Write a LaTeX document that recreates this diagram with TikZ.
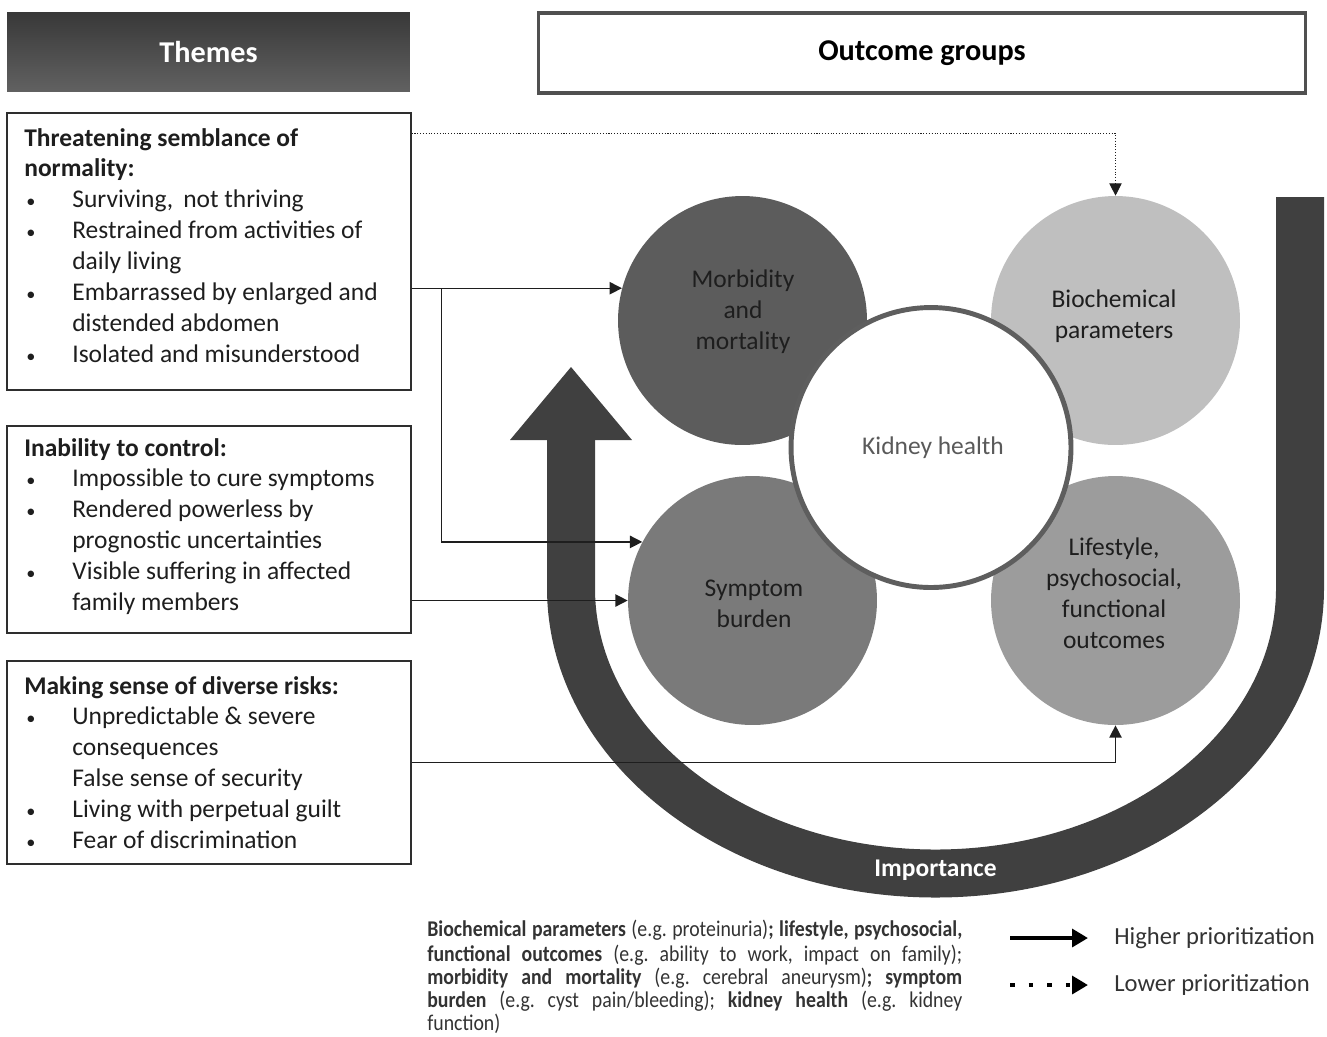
\documentclass[tikz,border=0pt]{standalone}
\usepackage{fontspec}
\setmainfont{Carlito}
\usetikzlibrary{arrows.meta,calc}
\definecolor{ink}{HTML}{1E1E1E}
\definecolor{boxline}{HTML}{2E2E2E}
\definecolor{outl}{HTML}{505050}
\definecolor{ucol}{HTML}{404040}
\definecolor{cmor}{HTML}{5C5C5C}
\definecolor{cbio}{HTML}{BFBFBF}
\definecolor{csym}{HTML}{7A7A7A}
\definecolor{clif}{HTML}{9C9C9C}
\definecolor{kring}{HTML}{5E5E5E}
\definecolor{ktext}{HTML}{5A5A5A}
\definecolor{legtext}{HTML}{333333}
\newcommand\tbul{\makebox[0.96cm][l]{\hspace{0.04cm}\scalebox{0.72}{\textbullet}}}
\newcommand\tind{\makebox[0.96cm]{}}
\begin{document}
\begin{tikzpicture}[x=0.02cm,y=-0.02cm,
  themebox/.style={draw=boxline,line width=0.8pt,fill=white,minimum width=8.08cm,inner sep=0pt},
  bodytext/.style={font=\fontsize{14.5}{17.6}\selectfont,text=ink,align=left,inner sep=0pt,anchor=north west},
  circ/.style={circle,minimum size=4.98cm,inner sep=0pt},
  ctext/.style={font=\fontsize{14.5}{17.6}\selectfont,text=ink,align=center,inner sep=0pt},
  conn/.style={draw=ink,line width=0.8pt,-{Triangle[length=7pt,width=7pt]}},
  dconn/.style={draw=ink,line width=0.6pt,densely dotted,-{Triangle[length=7pt,width=7pt]}},
  uarrow/.style={draw=ucol,line width=0.96cm},
  headtext/.style={font=\fontsize{17.2}{20}\selectfont\bfseries}
]
\useasboundingbox (0,0) rectangle (1327,1036);

% header boxes
\node[headtext,text=white,top color=black!78,bottom color=black!62,minimum width=8.06cm,minimum height=1.58cm,inner sep=0pt] (themes) at (208.5,51.5) {Themes};
\node[headtext,text=black,draw=outl,line width=2pt,fill=white,minimum width=15.34cm,minimum height=1.6cm,inner sep=0pt] (og) at (922,53) {Outcome groups};

% theme boxes
\node[themebox,minimum height=5.54cm] (t1) at (209,251.5) {};
\node[themebox,minimum height=4.14cm] (t2) at (209,529.5) {};
\node[themebox,minimum height=4.06cm] (t3) at (209,762.5) {};

\node[bodytext] (t1txt) at (24,124) {\strut\textbf{Threatening semblance of}\\
\textbf{normality:}\\
\tbul Surviving,\, not thriving\\
\tbul Restrained from activities of\\
\tind daily living\\
\tbul Embarrassed by enlarged and\\
\tind distended abdomen\\
\tbul Isolated and misunderstood};

\node[bodytext] (t2txt) at (24,434) {\strut\textbf{Inability to control:}\\
\tbul Impossible to cure symptoms\\
\tbul Rendered powerless by\\
\tind prognostic uncertainties\\
\tbul Visible suffering in affected\\
\tind family members};

\node[bodytext] (t3txt) at (24,672) {\strut\textbf{Making sense of diverse risks:}\\
\tbul Unpredictable \& severe\\
\tind consequences\\
\tind False sense of security\\
\tbul Living with perpetual guilt\\
\tbul Fear of discrimination};

% U shaped importance arrow
\draw[uarrow] (1300,197) -- (1300,588) arc[start angle=0,end angle=180,x radius=364.5,y radius=285.5] -- (571,439);
\fill[ucol] (510,440) -- (632,440) -- (571,367) -- cycle;
\node[headtext,font=\fontsize{14.5}{17}\selectfont\bfseries,text=white] (imp) at (935.5,870) {Importance};

% outcome circles
\node[circ,fill=cmor] (mor) at (742.5,320.5) {};
\node[circ,fill=cbio] (bio) at (1115.5,320.5) {};
\node[circ,fill=csym] (sym) at (752.5,600.5) {};
\node[circ,fill=clif] (lif) at (1115.5,600.5) {};
\node[circle,fill=white,draw=kring,line width=2.8pt,minimum size=5.6cm,inner sep=0pt] (kid) at (931,447.5) {};

\node[ctext] (mortxt) at (743,312) {Morbidity\\and\\mortality};
\node[ctext] (biotxt) at (1114,316.5) {Biochemical\\parameters};
\node[ctext,text=ktext] (kidtxt) at (933,448) {Kidney health};
\node[ctext] (symtxt) at (754,604) {Symptom\\burden};
\node[ctext] (liftxt) at (1114,593) {Lifestyle,\\psychosocial,\\functional\\outcomes};

% connectors
\coordinate (j1) at ([xshift=0.6cm]t1.east |- mor.165.8);
\draw[conn] (t1.east |- mor.165.8) -- (mor.165.8);
\draw[conn] (j1) |- (sym.152.5);
\draw[conn] (t2.east |- sym.west) -- (sym.west);
\draw[conn] (t3.east) -| (lif.south);
\draw[dconn] ([yshift=-0.42cm]t1.north east) -| (bio.north);

% legend
\node[anchor=north west,inner sep=0pt,text=legtext] (leg) at (427,920) {\scalebox{0.88}[1]{\parbox{12.16cm}{\fontsize{12.8}{13.0}\selectfont\frenchspacing\strut\textbf{Biochemical parameters} (e.g. proteinuria)\textbf{; lifestyle, psychosocial,}\linebreak
\textbf{functional outcomes} (e.g. ability to work, impact on family);\linebreak
\textbf{morbidity and mortality} (e.g. cerebral aneurysm)\textbf{; symptom}\linebreak
\textbf{burden} (e.g. cyst pain/bleeding); \textbf{kidney health} (e.g. kidney\linebreak
function)}}};

\coordinate (hs) at (1010,938);
\coordinate (he) at (1088,938);
\coordinate (ls) at (1010,985);
\coordinate (le) at (1088,985);
\draw[draw=black,line width=2.3pt,-{Triangle[length=9pt,width=10pt]}] (hs) -- (he);
\draw[draw=black,line width=2.6pt,dash pattern=on 2.6pt off 8pt,-{Triangle[length=9pt,width=10pt]}] (ls) -- (le);
\node[anchor=west,inner sep=0pt,text=legtext,font=\fontsize{14}{17}\selectfont] (hp) at (1114,938) {Higher prioritization};
\node[anchor=west,inner sep=0pt,text=legtext,font=\fontsize{14}{17}\selectfont] (lp) at (1114,985) {Lower prioritization};
\end{tikzpicture}
\end{document}
